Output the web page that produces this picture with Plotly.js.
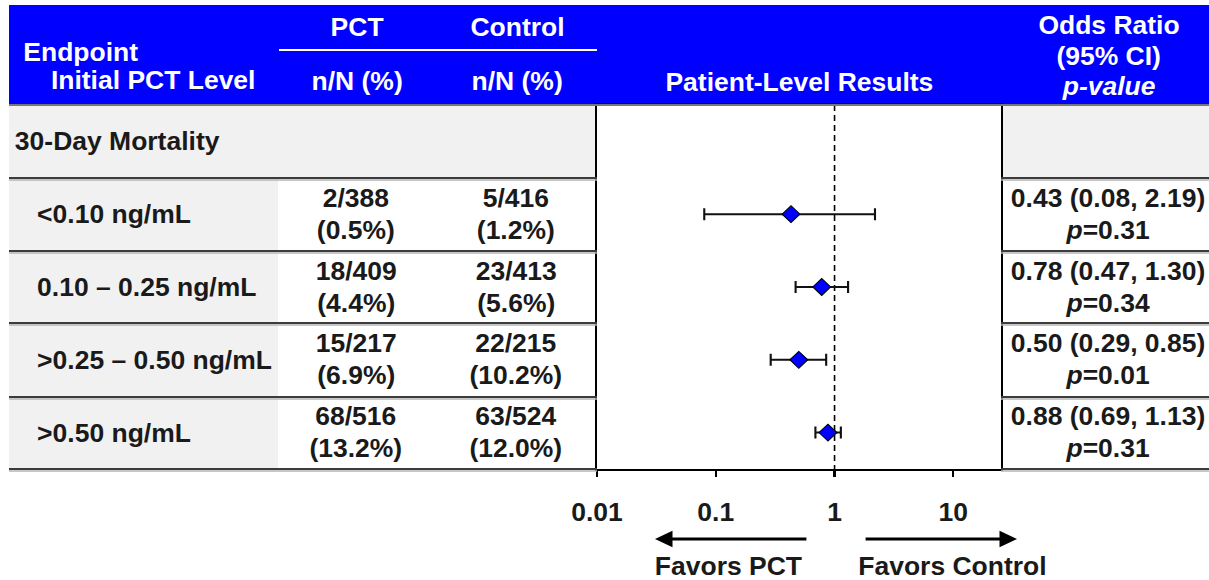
<!DOCTYPE html>
<html>
<head>
<meta charset="utf-8">
<script src="https://cdn.plot.ly/plotly-3.0.1.min.js"></script>
<style>
  html, body { margin: 0; padding: 0; background: #ffffff; overflow: hidden; }
  #chart { width: 1141px; height: 580px; transform-origin: 0 0; }
</style>
</head>
<body>
<div id="chart"></div>
<script>
// Forest plot: 30-day mortality by initial PCT level
const endpointName = '30-Day Mortality';
const pctLevels = ['<0.10 ng/mL', '0.10 – 0.25 ng/mL', '>0.25 – 0.50 ng/mL', '>0.50 ng/mL'];
const pctCounts = ['2/388', '18/409', '15/217', '68/516'];
const pctRates = ['(0.5%)', '(4.4%)', '(6.9%)', '(13.2%)'];
const controlCounts = ['5/416', '23/413', '22/215', '63/524'];
const controlRates = ['(1.2%)', '(5.6%)', '(10.2%)', '(12.0%)'];
const oddsRatio = [0.43, 0.78, 0.50, 0.88];
const ciLower = [0.08, 0.47, 0.29, 0.69];
const ciUpper = [2.19, 1.30, 0.85, 1.13];
const pValues = ['0.31', '0.34', '0.01', '0.31'];
const tickValues = [0.01, 0.1, 1, 10];
const tickLabels = ['0.01', '0.1', '1', '10'];

// page geometry helpers (pixel -> paper fraction)
const W = 1209, H = 580;
const PLOT_W = 1141;            // drawing width before the horizontal stretch
const S = W / PLOT_W;           // horizontal stretch applied to the container
document.getElementById('chart').style.transform = 'scaleX(' + S + ')';
const px = x => x / W;
const py = y => 1 - y / H;

const FONT = 'Liberation Sans, Arial, Helvetica, sans-serif';
const FS = 25;
const BLUE = '#0000ff';
const GRAY = '#f1f1f1';
const RULE = '#3c3c3c';
const RULE_SHADOW = '#b4b4b4';

// row positions on the y axis (row 0 = endpoint heading)
const rowY = pctLevels.map((_, i) => i + 1.5);

const trace = {
  type: 'scatter',
  mode: 'markers',
  x: oddsRatio,
  y: rowY,
  marker: { symbol: 'diamond', size: 13, color: BLUE, line: { color: '#000000', width: 1 } },
  error_x: {
    type: 'data',
    symmetric: false,
    array: oddsRatio.map((v, i) => ciUpper[i] - v),
    arrayminus: oddsRatio.map((v, i) => v - ciLower[i]),
    color: '#111111',
    thickness: 2,
    width: 6
  },
  hoverinfo: 'skip',
  showlegend: false
};

const shapes = [];
function rect(x0, y0, x1, y1, color) {
  shapes.push({ type: 'rect', xref: 'paper', yref: 'paper', layer: 'below',
    x0: px(x0), x1: px(x1), y0: py(y0), y1: py(y1),
    fillcolor: color, line: { width: 0 } });
}
function hline(x0, x1, y, color, width) {
  shapes.push({ type: 'line', xref: 'paper', yref: 'paper', layer: 'above',
    x0: px(x0), x1: px(x1), y0: py(y), y1: py(y),
    line: { color: color, width: width } });
}
function rule(x0, x1, y) {
  hline(x0, x1, y + 2, RULE_SHADOW, 1.5);
  hline(x0, x1, y, RULE, 2);
}

// header band and table backgrounds
rect(9, 5, 1209, 104, BLUE);
rect(9, 105, 597, 178, GRAY);
rect(1001, 105, 1209, 178, GRAY);
rect(9, 178, 278, 469, GRAY);
hline(9, 1209, 105, '#777777', 2);
hline(279, 597, 50, '#ffffff', 2);

// row rules
[178, 251, 323, 397, 469].forEach(y => {
  rule(9, 597, y);
  rule(1001, 1209, y);
});

// reference line at OR = 1
shapes.push({ type: 'line', xref: 'x', yref: 'y', layer: 'below',
  x0: 1, x1: 1, y0: 0, y1: 5, line: { color: '#000000', width: 1.5, dash: '6px,4px' } });

const annotations = [];
function note(text, x, y, opts) {
  annotations.push(Object.assign({
    text: text, x: px(x), y: py(y), xref: 'paper', yref: 'paper',
    showarrow: false, xanchor: 'center', yanchor: 'middle',
    font: { family: FONT, size: FS, color: '#ffffff' }
  }, opts || {}));
}

// header text
note('<b>PCT</b>', 357, 27);
note('<b>Control</b>', 518, 27);
note('<b>Endpoint</b>', 21, 52, { xanchor: 'left' });
note('<b>Initial PCT Level</b>', 153, 80);
note('<b>n/N (%)</b>', 357, 81);
note('<b>n/N (%)</b>', 517, 81);
note('<b>Patient-Level Results</b>', 799, 82);
note('<b>Odds Ratio</b>', 1109, 25);
note('<b>(95% CI)</b>', 1109, 56);
note('<b><i>p-value</i></b>', 1109, 86);

const dark = { family: FONT, size: FS, color: '#1a1a1a' };
annotations.push({ text: '<b>' + endpointName + '</b>', x: px(13), y: 0.5, xref: 'paper', yref: 'y',
  xanchor: 'left', yanchor: 'middle', showarrow: false, font: dark });

pctLevels.forEach((lvl, i) => {
  const yv = rowY[i];
  annotations.push({ text: '<b>' + lvl + '</b>', x: px(35), y: yv, xref: 'paper', yref: 'y',
    xanchor: 'left', yanchor: 'middle', showarrow: false, font: dark });
  annotations.push({ text: '<b>' + pctCounts[i] + '<br>' + pctRates[i] + '</b>', x: px(356), y: yv,
    xref: 'paper', yref: 'y', xanchor: 'center', yanchor: 'middle', showarrow: false, font: dark });
  annotations.push({ text: '<b>' + controlCounts[i] + '<br>' + controlRates[i] + '</b>', x: px(516), y: yv,
    xref: 'paper', yref: 'y', xanchor: 'center', yanchor: 'middle', showarrow: false, font: dark });
  const orText = oddsRatio[i].toFixed(2) + ' (' + ciLower[i].toFixed(2) + ', ' + ciUpper[i].toFixed(2) + ')';
  annotations.push({ text: '<b>' + orText + '<br><i>p</i>=' + pValues[i] + '</b>', x: px(1108), y: yv,
    xref: 'paper', yref: 'y', xanchor: 'center', yanchor: 'middle', showarrow: false, font: dark });
});

// direction arrows and captions under the axis
annotations.push({ text: '', x: px(655), y: py(539), xref: 'paper', yref: 'paper',
  ax: (808 - 655) / S, ay: 0, axref: 'pixel', ayref: 'pixel', showarrow: true,
  arrowhead: 2, arrowsize: 1.1, arrowwidth: 3, arrowcolor: '#000000' });
annotations.push({ text: '', x: px(1017), y: py(539), xref: 'paper', yref: 'paper',
  ax: -(1017 - 864) / S, ay: 0, axref: 'pixel', ayref: 'pixel', showarrow: true,
  arrowhead: 2, arrowsize: 1.1, arrowwidth: 3, arrowcolor: '#000000' });
annotations.push({ text: '<b>Favors PCT</b>', x: px(729), y: py(566), xref: 'paper', yref: 'paper',
  showarrow: false, xanchor: 'center', yanchor: 'middle', font: dark });
annotations.push({ text: '<b>Favors Control</b>', x: px(953), y: py(566), xref: 'paper', yref: 'paper',
  showarrow: false, xanchor: 'center', yanchor: 'middle', font: dark });

const layout = {
  width: PLOT_W,
  height: H,
  autosize: false,
  margin: { l: 0, r: 0, t: 0, b: 0, pad: 0 },
  paper_bgcolor: '#ffffff',
  plot_bgcolor: '#ffffff',
  font: { family: FONT, size: FS, color: '#1a1a1a' },
  showlegend: false,
  xaxis: {
    type: 'log',
    range: [-2, Math.log10(25.2)],
    domain: [px(597), px(1001)],
    tickvals: tickValues,
    ticktext: tickLabels.map(t => '<b>' + t + '</b>'),
    ticks: 'outside',
    ticklen: 6,
    tickwidth: 2,
    tickcolor: '#000000',
    ticklabelstandoff: 14,
    tickfont: { family: FONT, size: FS, color: '#1a1a1a' },
    showline: true,
    linecolor: '#000000',
    linewidth: 2,
    mirror: true,
    showgrid: false,
    zeroline: false,
    fixedrange: true
  },
  yaxis: {
    range: [5, 0],
    domain: [py(469), py(105)],
    showticklabels: false,
    ticks: '',
    showline: true,
    linecolor: '#000000',
    linewidth: 2,
    mirror: true,
    showgrid: false,
    zeroline: false,
    fixedrange: true
  },
  shapes: shapes,
  annotations: annotations
};

Plotly.newPlot('chart', [trace], layout, { staticPlot: true, displayModeBar: false });
</script>
</body>
</html>
